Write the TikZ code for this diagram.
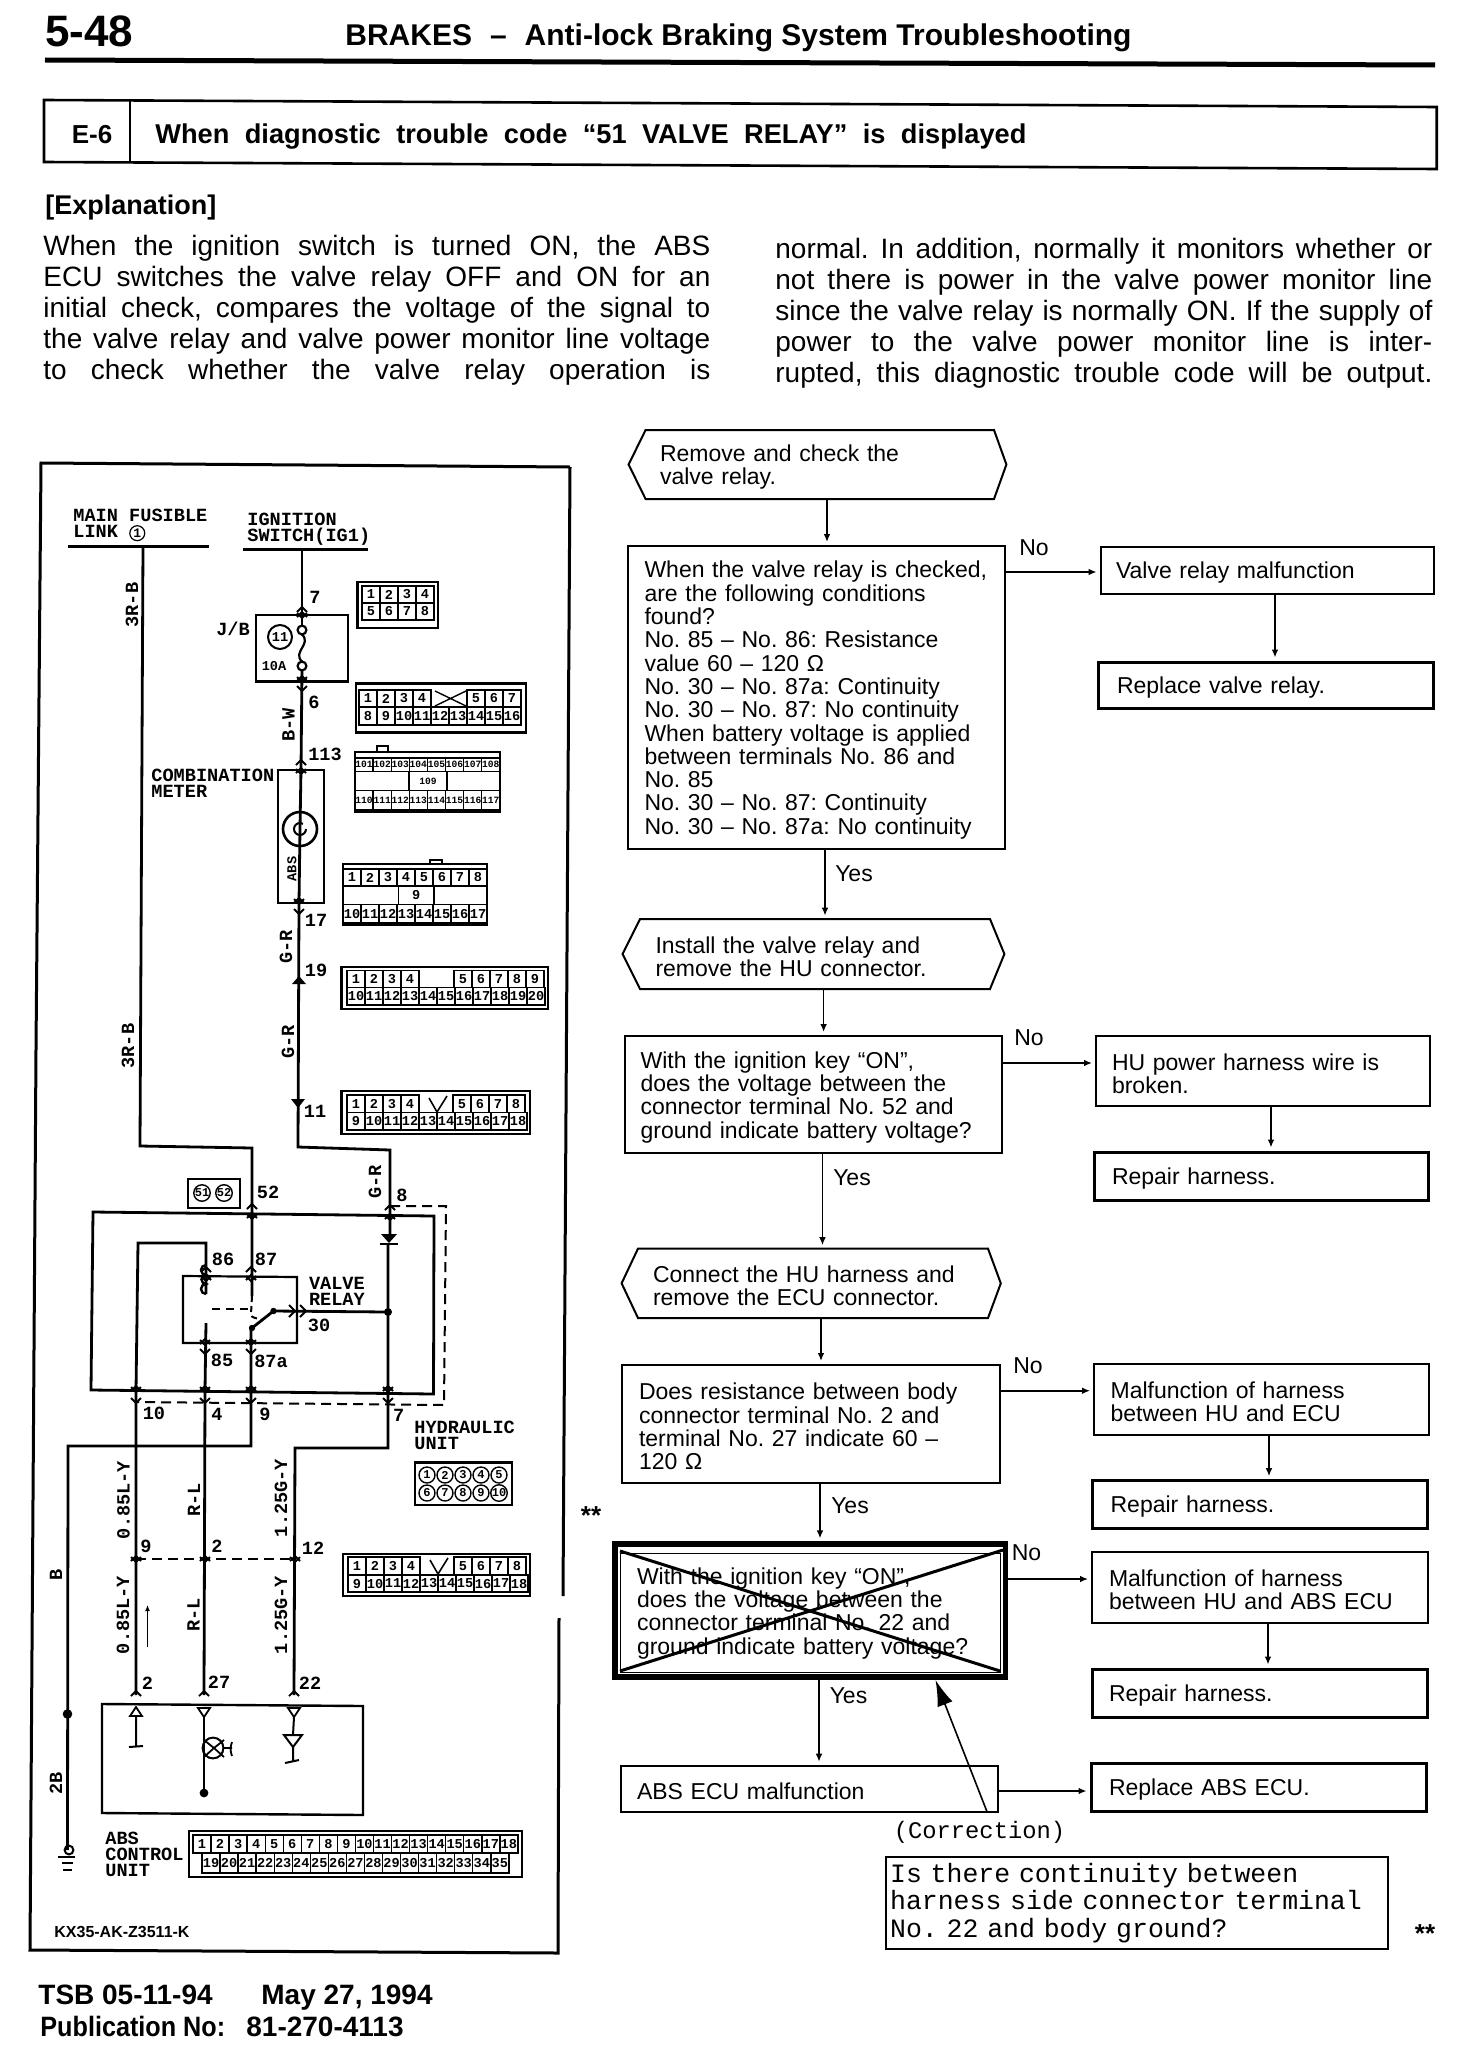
\documentclass[tikz,border=0pt]{standalone}
\usepackage{graphicx}
\usepackage{fontspec}
\setmainfont{Liberation Sans}
\setmonofont{Liberation Mono}
\usetikzlibrary{arrows.meta,calc}
\frenchspacing
\newcommand{\ftflow}{\fontsize{11.5}{11.65}\selectfont}
\newcommand{\ftbody}{\fontsize{14}{15.5}\selectfont}
\newcommand{\ftwire}{\ttfamily\bfseries\fontsize{9.3}{8}\selectfont}
\newcommand{\ftcell}{\ttfamily\bfseries\fontsize{6.8}{7}\selectfont}
\tikzset{
  fbox/.style={draw,line width=1pt,inner sep=0pt,align=left,font=\ftflow},
  fboxthick/.style={fbox,line width=1.5pt},
  hexb/.style={inner sep=0pt,align=left,font=\ftflow},
  flow/.style={line width=.8pt,-{Latex[length=4pt,width=3.4pt]},shorten >=1.5pt},
  flab/.style={inner sep=0pt,font=\ftflow},
  wire/.style={line width=1.4pt,line join=miter},
  dwire/.style={line width=1pt,dash pattern=on 5pt off 3pt},
  tip/.style={line width=.9pt},
  wl/.style={inner sep=0pt,font=\ftwire},
  wlL/.style={inner sep=0pt,font=\ftwire,anchor=west,align=left},
  wr/.style={inner sep=0pt,font=\ftwire,rotate=90},
  cell/.style={draw,line width=.7pt,inner sep=0pt,font=\ftcell},
  cell3/.style={cell,font=\ttfamily\bfseries\fontsize{4.8}{5}\selectfont},
  round cell/.style={circle,draw,line width=.7pt,inner sep=0pt,minimum size=8pt,font=\ttfamily\bfseries\fontsize{6}{6}\selectfont},
  shell/.style={line width=1.1pt},
  para/.style={inner sep=0pt,anchor=west,font=\ftbody,text height=10pt,text depth=3pt},
  head/.style={inner sep=0pt,anchor=west,font=\bfseries},
  foot/.style={head,font=\bfseries\fontsize{14}{14}\selectfont,text height=10pt,text depth=3pt},
}
\newcommand{\fb}[8][fbox]{\node[#1,minimum width={(#5-#3)*0.5pt},minimum height={(#6-#4)*0.5pt},text width={(#5-#3-2*(#7))*0.5pt}] (#2) at ({(#3+#5)/2},{(#4+#6)/2}) {\rule{0pt}{11pt}#8};}
\newcommand{\hexbox}[9]{\node[hexb,minimum width={(#4-#2)*0.5pt},minimum height={(#5-#3)*0.5pt},text width={(#4-#2-2*(#8))*0.5pt}] (#1) at ({(#2+#4)/2},{(#3+#5)/2}) {\rule{0pt}{11pt}#9};
  \draw[line width=1pt] (#1.west)--(#6,#3)--(#7,#3)--(#1.east)--(#7,#5)--(#6,#5)--cycle;}
\newcommand{\connrow}[6]{\foreach \lab [count=\ci] in {#6}{\pgfmathsetmacro{\cellx}{#2+(\ci-0.5)*#5}\node[cell,minimum width={#5*0.5pt},minimum height={(#4-#3)*0.5pt}] (#1-\ci) at (\cellx,{(#3+#4)/2}) {\lab};}}
\newcommand{\connrowS}[6]{\foreach \lab [count=\ci] in {#6}{\pgfmathsetmacro{\cellx}{#2+(\ci-0.5)*#5}\node[cell3,minimum width={#5*0.5pt},minimum height={(#4-#3)*0.5pt}] (#1-\ci) at (\cellx,{(#3+#4)/2}) {\lab};}}
\newcommand{\chevup}[2]{\draw[tip] (#1-5,#2+5)--(#1,#2)--(#1+5,#2+5);}
\newcommand{\chevdn}[2]{\draw[tip] (#1-5,#2-5)--(#1,#2)--(#1+5,#2-5);}
\newcommand{\chevx}[2]{\chevup{#1}{#2-3}\chevdn{#1}{#2+3}}
\newcommand{\jline}[2]{\makebox[#1][s]{#2}}
\begin{document}
\begin{tikzpicture}[x=0.5pt,y=-0.5pt]
\path[use as bounding box,fill=white] (0,0) rectangle (1472,2050);
% ---------- header
\node[head,font=\bfseries\fontsize{22}{22}\selectfont] (pageno) at (45,31) {5-48};
\node[head,font=\bfseries\fontsize{15}{15}\selectfont,text height=11pt,text depth=3pt] (hdr) at (345,38) {BRAKES\hspace{9pt}–\hspace{9pt}\fontsize{15}{15}\selectfont Anti-lock Braking System Troubleshooting};
\draw[line width=2.5pt] (45,60)--(1435,65);
\draw[line width=1.3pt] (44,100)--(1436.7,107)--(1436.7,169)--(44,162)--cycle;
\draw[line width=1pt] (129.6,101)--(129.6,162);
\node[inner sep=0pt,font=\bfseries\fontsize{13}{13}\selectfont] (code) at (92,135) {E-6};
\node[head,font=\bfseries\fontsize{13.6}{14}\selectfont] (title) at (155,137) {\jline{435.5pt}{When\hspace{3pt} diagnostic\hspace{3pt} trouble\hspace{3pt} code\hspace{3pt} “51\hspace{3pt} VALVE\hspace{3pt} RELAY”\hspace{3pt} is\hspace{3pt} displayed}};
\node[head,font=\bfseries\fontsize{13.5}{14}\selectfont] (expl) at (45,208) {[Explanation]};
% ---------- paragraphs
\node[para] (l1) at (43,248) {\jline{333.5pt}{When the ignition switch is turned ON, the ABS}};
\node[para] (l2) at (43,279) {\jline{333.5pt}{ECU switches the valve relay OFF and ON for an}};
\node[para] (l3) at (43,310) {\jline{333.5pt}{initial check, compares the voltage of the signal to}};
\node[para] (l4) at (43,341) {\jline{333.5pt}{the valve relay and valve power monitor line voltage}};
\node[para] (l5) at (43,372) {\jline{333.5pt}{to check whether the valve relay operation is}};
\node[para] (r1) at (775,251) {\jline{328.5pt}{normal. In addition, normally it monitors whether or}};
\node[para] (r2) at (775,282) {\jline{328.5pt}{not there is power in the valve power monitor line}};
\node[para] (r3) at (775,313) {\jline{328.5pt}{since the valve relay is normally ON. If the supply of}};
\node[para] (r4) at (775,344) {\jline{328.5pt}{power to the valve power monitor line is inter-}};
\node[para] (r5) at (775,375) {\jline{328.5pt}{rupted, this diagnostic trouble code will be output.}};
% ---------- flow chart boxes
\hexbox{h1}{629}{430}{1006}{499}{645.6}{994}{31}{Remove and check the\\valve relay.}
\fb{b1}{628}{546}{1005}{849}{16.5}{When the valve relay is checked,\\are the following conditions\\found?\\No. 85 – No. 86: Resistance\\value 60 – 120 Ω\\No. 30 – No. 87a: Continuity\\No. 30 – No. 87: No continuity\\When battery voltage is applied\\between terminals No. 86 and\\No. 85\\No. 30 – No. 87: Continuity\\No. 30 – No. 87a: No continuity}
\fb{b2}{1100.5}{547}{1434}{593.5}{15.5}{Valve relay malfunction}
\fb[fboxthick]{b3}{1098.5}{662}{1433}{708.6}{18.5}{Replace valve relay.}
\hexbox{h2}{623}{919}{1004}{989}{640}{990}{32.5}{Install the valve relay and\\remove the HU connector.}
\fb{b4}{625}{1036}{1001.5}{1153}{15.6}{With the ignition key “ON”,\\does the voltage between the\\connector terminal No. 52 and\\ground indicate battery voltage?}
\fb{b5}{1096}{1036.4}{1430}{1106}{16}{HU power harness wire is\\broken.}
\fb[fboxthick]{b6}{1094}{1152}{1428.7}{1200}{18}{Repair harness.}
\hexbox{h3}{622}{1248.6}{1000.4}{1318}{638}{988}{31}{Connect the HU harness and\\remove the ECU connector.}
\fb{b7}{622}{1365}{1000.4}{1483}{17}{Does resistance between body\\connector terminal No. 2 and\\terminal No. 27 indicate 60 –\\120 Ω}
\fb{b8}{1094}{1364}{1428.7}{1434.6}{16.6}{Malfunction of harness\\between HU and ECU}
\fb[fboxthick]{b9}{1092}{1480.7}{1427.5}{1528}{18.6}{Repair harness.}
\fb[fbox,line width=2.6pt]{b10}{615}{1544}{1005.5}{1677}{22}{With the ignition key “ON”,\\does the voltage between the\\connector terminal No. 22 and\\ground indicate battery voltage?}
\draw[line width=.5pt] (620,1553) rectangle (1000,1672);
\draw[line width=1.5pt] (620,1551)--(1000,1671);
\draw[line width=1.5pt] (1003,1550)--(620,1671);
\fb{b11}{1092}{1551.7}{1427.6}{1622.7}{17}{Malfunction of harness\\between HU and ABS ECU}
\fb[fboxthick]{b12}{1092}{1669}{1427.6}{1717}{17}{Repair harness.}
\fb{b13}{621}{1765.7}{998}{1811.7}{16}{ABS ECU malfunction}
\fb[fboxthick]{b14}{1091}{1763}{1426}{1811}{18}{Replace ABS ECU.}
\node[draw,line width=1.1pt,inner sep=0pt,minimum width={251pt},minimum height={46pt},text width={246.5pt},align=left,font=\ttfamily\fontsize{13.25}{13.7}\selectfont] (b15) at (1136.6,1903) {Is there continuity between\\harness side connector terminal\\No. 22 and body ground?};
\node[inner sep=0pt,font=\ttfamily\fontsize{11.9}{12}\selectfont] (corr) at (979.5,1832) {(Correction)};
\node[inner sep=0pt,font=\bfseries\fontsize{13}{13}\selectfont] (st1) at (591,1516) {**};
\node[inner sep=0pt,font=\bfseries\fontsize{13}{13}\selectfont] (st2) at (1425,1934) {**};
% flow connectors
\coordinate (xa) at (827,0); \coordinate (xb) at (825,0); \coordinate (xc) at (823.6,0); \coordinate (xd) at (822.5,0);
\coordinate (xe) at (821,0); \coordinate (xf) at (820,0); \coordinate (xg) at (819,0);
\coordinate (xh) at (1275,0); \coordinate (xi) at (1271,0); \coordinate (xj) at (1269,0); \coordinate (xk) at (1268,0);
\coordinate (ya) at (0,572); \coordinate (yb) at (0,1063); \coordinate (yc) at (0,1390.7); \coordinate (yd) at (0,1579); \coordinate (ye) at (0,1791);
\draw[flow] (xa |- h1.south)--(xa |- b1.north);
\draw[flow] (xb |- b1.south)--(xb |- h2.north);
\draw[flow] (xc |- h2.south)--(xc |- b4.north);
\draw[flow] (xd |- b4.south)--(xd |- h3.north);
\draw[flow] (xe |- h3.south)--(xe |- b7.north);
\draw[flow] (xf |- b7.south)--(xf |- b10.north);
\draw[flow] (xg |- b10.south)--(xg |- b13.north);
\draw[flow] (b1.east |- ya)--(b2.west |- ya);
\draw[flow] (b4.east |- yb)--(b5.west |- yb);
\draw[flow] (b7.east |- yc)--(b8.west |- yc);
\draw[flow] (b10.east |- yd)--(b11.west |- yd);
\draw[flow] (b13.east |- ye)--(b14.west |- ye);
\draw[flow] (xh |- b2.south)--(xh |- b3.north);
\draw[flow] (xi |- b5.south)--(xi |- b6.north);
\draw[flow] (xj |- b8.south)--(xj |- b9.north);
\draw[flow] (xk |- b11.south)--(xk |- b12.north);
\coordinate (corrtail) at (987,1811.7); \coordinate (corrtip) at (935.5,1680);
\draw[line width=.8pt,-{Latex[length=13pt,width=8pt]}] (corrtail)--(corrtip);
\node[flab] (no1) at (1034,548) {No};
\node[flab] (no2) at (1029,1038) {No};
\node[flab] (no3) at (1028,1366) {No};
\node[flab] (no4) at (1026.5,1553) {No};
\node[flab] (yes1) at (854,874) {Yes};
\node[flab] (yes2) at (852,1178) {Yes};
\node[flab] (yes3) at (850,1506) {Yes};
\node[flab] (yes4) at (848.5,1695.6) {Yes};
% ---------- wiring frame
\draw[line width=1.5pt] (570,467)--(41,463)--(36,1050)--(30,1950)--(558,1953)--(559,1618);
\draw[line width=1.5pt] (563,1596)--(570,467);
% sources
\node[wlL] (src1) at (73,525) {MAIN FUSIBLE\\LINK \raisebox{-1pt}{\tikz[baseline=-3pt]\node[circle,draw,line width=.6pt,inner sep=.6pt,font=\ttfamily\fontsize{6.5}{6.5}\selectfont]{1};}};
\node[wlL] (src2) at (247,529) {IGNITION\\SWITCH(IG1)};
\draw[line width=1.5pt] (68,546)--(209,546);
\draw[line width=1.5pt] (243,549.5)--(368,549.5);
% wires
\draw[wire] (143,546)--(140,1146)--(252,1148)--(252,1296);
\draw[wire] (302,549.5)--(302,626);
\draw[wire] (302,670)--(301,769)--(300,829);
\draw[wire] (300,829)--(299,903)--(298,1147)--(390,1150)--(390,1234);
\draw[wire] (388,1243)--(388,1448)--(295,1448)--(294,1695);
\draw[wire] (206,1294)--(206,1243)--(138,1243)--(136,1391)--(136,1695);
\draw[wire] (206,1323)--(205,1391)--(204,1695);
\draw[wire] (251,1328)--(251,1446)--(68,1446)--(67.5,1850);
\draw[wire] (388,1312)--(273.5,1311)--(252,1328);
\fill (388,1312) circle (2pt);
\fill (273.5,1311) circle (1.6pt);
\fill (252,1328) circle (1.6pt);
\draw[dwire] (390,1206)--(446,1206)--(444,1405)--(136,1402);
\draw[dwire] (136,1559)--(295,1559);
\draw[line width=1pt,dash pattern=on 3pt off 2pt] (252,1296)--(251,1314) to[out=-90,in=150] (262,1320);
\draw[line width=1pt,dash pattern=on 4pt off 3pt] (212,1309)--(250,1309);
\draw[line width=1.2pt] (206,1294) arc[start angle=90,end angle=270,radius=5] arc[start angle=90,end angle=270,radius=4.5] arc[start angle=90,end angle=270,radius=5];
% relay boxes
\draw[wire] (93,1212)--(434,1216)--(433.5,1394)--(91,1390)--cycle;
\draw[line width=1.1pt] (183,1276)--(297,1277)--(297,1343)--(183,1343)--cycle;
\path[fill=black] (381,1234)--(397,1234)--(389,1243)--cycle;
\draw[line width=1.2pt] (380,1244)--(398,1244);
% J/B and fuse
\draw[line width=1.1pt] (256,615) rectangle (348,681.5);
\draw[line width=1.1pt] (302,630) circle (2.2pt);
\draw[line width=1.1pt] (302,666) circle (2.2pt);
\draw[line width=1.1pt] (302,634.5) .. controls (312,644) and (292,652) .. (302,661.5);
\node[circle,draw,line width=1pt,inner sep=0pt,minimum size=12pt,font=\ftcell] (jb11) at (280,637) {11};
\node[inner sep=0pt,font=\ftcell] (jb10a) at (274,666) {10A};
\node[wl] (jblab) at (233,629) {J/B};
% meter
\draw[line width=1.1pt] (278,769.6) rectangle (323.6,902.7);
\draw[line width=1.3pt] (300,829) circle (8.5pt);
\draw[line width=1pt] (306,829) arc[start angle=0,end angle=300,radius=6];
\node[inner sep=0pt,rotate=90,font=\ftcell] (absm) at (292,869) {ABS};
\node[wlL] (cmlab) at (151,783) {COMBINATION\\METER};
% chevrons
\chevup{302}{607}\chevx{302}{615}\chevx{302}{679}\chevdn{302}{691}
\chevup{301}{760}\chevx{301}{771}\chevx{299}{901}\chevdn{299}{914}
\path[fill=black] (292,984)--(299,976)--(306,984)--cycle;
\path[fill=black] (291,1099)--(305,1099)--(298,1108)--cycle;
\chevup{252}{1204}\chevx{252}{1216}
\chevup{390}{1205}\chevx{390}{1217}
\chevup{206}{1267}\chevx{206}{1278}\chevup{251}{1267}\chevx{251}{1278}
\chevx{205}{1342}\chevdn{205}{1354}\chevx{251}{1342}\chevdn{251}{1354}
\foreach \px in {136,205,251,388}{\chevx{\px}{1389}\chevdn{\px}{1403}}
\foreach \px in {136,205,295}{\chevx{\px}{1559}}
\foreach \px in {136,204,294}{\chevup{\px}{1691}}
\draw[tip] (289,1305)--(295,1311)--(289,1317);
\draw[tip] (300,1305)--(306,1311)--(300,1317);
% wire colour labels
\node[wr] (c1) at (132,605) {3R-B};
\node[wr] (c2) at (128,1046) {3R-B};
\node[wr] (c3) at (288.6,725) {B-W};
\node[wr] (c4) at (286,947) {G-R};
\node[wr] (c5) at (288,1042) {G-R};
\node[wr] (c6) at (375,1182) {G-R};
\node[wr] (c7) at (123.6,1500) {0.85L-Y};
\node[wr] (c8) at (194,1500) {R-L};
\node[wr] (c9) at (281,1498) {1.25G-Y};
\node[wr] (c10) at (123,1615) {0.85L-Y};
\node[wr] (c11) at (193.5,1615) {R-L};
\node[wr] (c12) at (281,1615) {1.25G-Y};
\node[wr] (c13) at (56,1575) {B};
\node[wr] (c14) at (56,1783) {2B};
\draw[line width=.8pt,-{Latex[length=3pt,width=2.5pt]}] (147.5,1647)--(147.5,1605);
% pin labels
\node[wl] (p7) at (315,597) {7};
\node[wl] (p6) at (314,702) {6};
\node[wl] (p113) at (325,754) {113};
\node[wl] (p17) at (316,920) {17};
\node[wl] (p19) at (316,970) {19};
\node[wl] (p11) at (315,1111) {11};
\node[wl] (p52) at (268,1192) {52};
\node[wl] (p8) at (402,1195) {8};
\node[wl] (p86) at (223,1259) {86};
\node[wl] (p87) at (266,1259) {87};
\node[wl] (p85) at (222,1360) {85};
\node[wl] (p87a) at (271,1361) {87a};
\node[wl] (p30) at (319,1325) {30};
\node[wlL] (vr) at (308.6,1291) {VALVE\\RELAY};
\node[wl] (p10) at (154,1413) {10};
\node[wl] (p4) at (217,1414) {4};
\node[wl] (p9) at (265,1414) {9};
\node[wl] (p7b) at (398.6,1415) {7};
\node[wlL] (hu) at (414,1435) {HYDRAULIC\\UNIT};
\node[wl] (p9b) at (146,1546) {9};
\node[wl] (p2) at (217,1546) {2};
\node[wl] (p12) at (313,1548) {12};
\node[wl] (p2b) at (147.5,1683) {2};
\node[wl] (p27) at (219,1682) {27};
\node[wl] (p22) at (310,1683) {22};
% ABS unit
\draw[line width=1.2pt] (102,1704)--(363,1706)--(363,1815)--(102,1813)--cycle;
\draw[line width=.9pt] (136,1707)--(142,1716)--(130,1716)--cycle;
\draw[line width=1pt] (136,1716)--(136,1747) (129,1747)--(143,1746);
\draw[line width=.9pt] (198,1708)--(210,1708)--(204,1717)--cycle;
\draw[line width=1pt] (204,1717)--(204,1793);
\fill (204,1793) circle (2.2pt);
\draw[line width=1pt] (213,1748) circle (5.2pt);
\draw[line width=.9pt] (204,1740)--(214,1748)--(204,1757) (214,1748)--(224,1740) (214,1748)--(224,1757);
\draw[line width=.9pt] (224,1748)--(232,1748) (232,1742) to[bend right=20] (232,1756);
\draw[line width=.9pt] (288,1708)--(300,1708)--(294,1717)--cycle;
\draw[line width=1pt] (294,1717)--(293,1735);
\draw[line width=1pt] (284,1735)--(302,1735)--(293,1747)--cycle;
\draw[line width=1pt] (293,1747)--(293,1762) (285,1763)--(299,1760);
% ground
\fill (67.5,1714) circle (2.4pt);
\draw[line width=1pt] (69,1850) circle (2.2pt);
\draw[line width=1.1pt] (58,1857)--(75,1857) (62,1863)--(73,1863) (63,1870)--(72,1870);
\node[wlL] (acu) at (105,1854) {ABS\\CONTROL\\UNIT};
\node[head,font=\bfseries\fontsize{8}{8}\selectfont] (kx) at (54,1932) {KX35-AK-Z3511-K};
% footer
\node[foot] (f1) at (38,1997) {TSB 05-11-94};
\node[foot] (f2) at (261,1997) {May 27, 1994};
\node[foot] (f3) at (40,2029) {\scalebox{.9}[1]{Publication No:}};
\node[foot] (f4) at (246,2029) {81-270-4113};
% connector diagrams
\draw[shell] (357.5,582) rectangle (438,628);
\connrow{ca}{362}{586}{603}{18}{1,2,3,4}
\connrow{cb}{362}{603}{620}{18}{5,6,7,8}
\draw[shell] (356,683.5) rectangle (526,732.4);
\connrow{cc}{359}{690}{707}{18}{1,2,3,4}
\connrow{cd}{467}{690}{707}{18}{5,6,7}
\connrow{ce}{359}{707}{725}{18}{8,9,10,11,12,13,14,15,16}
\draw[line width=.7pt] (435,691)--(466,706) (435,706)--(466,691);
\draw[shell] (355,752) rectangle (500,811.6);
\draw[shell] (377,752)--(377,746)--(388,746)--(388,752);
\connrowS{cf}{355}{758}{771.5}{18.1}{101,102,103,104,105,106,107,108}
\connrowS{cg}{409}{771.5}{790.6}{38}{109}
\connrowS{ch}{355}{790.6}{810}{18.1}{110,111,112,113,114,115,116,117}
\draw[shell] (343,864) rectangle (487,924.5);
\draw[shell] (430,864)--(430,860)--(442,860)--(442,864);
\connrow{ci}{343}{869}{886}{18}{1,2,3,4,5,6,7,8}
\connrow{cj}{398.6}{886}{904.6}{35.4}{9}
\connrow{ck}{343}{904.6}{923}{18}{10,11,12,13,14,15,16,17}
\draw[shell] (341.5,966.6) rectangle (548,1008.7);
\connrow{cl}{347}{970.5}{987.7}{18}{1,2,3,4}
\connrow{cm}{454}{970.5}{987.7}{18}{5,6,7,8,9}
\connrow{cn}{347}{987.7}{1005}{18}{10,11,12,13,14,15,16,17,18,19,20}
\draw[shell] (341.5,1091) rectangle (530,1134);
\connrow{co}{347}{1095}{1112.5}{18}{1,2,3,4}
\connrow{cp}{453}{1095}{1112.5}{18}{5,6,7,8}
\connrow{cq}{347}{1112.5}{1130}{18}{9,10,11,12,13,14,15,16,17,18}
\draw[line width=.8pt] (429,1098)--(437,1112)--(447,1096);
\draw[shell] (188,1179) rectangle (240,1208);
\node[round cell] (c51) at (202,1193) {51};
\node[round cell] (c52) at (224,1193) {52};
\draw[shell] (415,1462.5) rectangle (512,1505);
\foreach \lab [count=\ci] in {1,2,3,4,5}{\pgfmathsetmacro{\cellx}{427+(\ci-1)*18}\node[round cell] (hu\ci) at (\cellx,1475) {\lab};}
\foreach \lab [count=\ci] in {6,7,8,9,10}{\pgfmathsetmacro{\cellx}{427+(\ci-1)*18}\node[round cell] (hv\ci) at (\cellx,1493) {\lab};}
\draw[shell] (343,1553.6) rectangle (530,1596);
\connrow{cr}{348}{1557}{1575}{18}{1,2,3,4}
\connrow{cs}{454}{1557}{1575}{18}{5,6,7,8}
\connrow{ct}{348}{1575}{1592}{18}{9,10,11,12,13,14,15,16,17,18}
\draw[line width=.8pt] (430,1560)--(438,1574)--(448,1558);
\draw[shell] (188.6,1831) rectangle (522,1877);
\connrow{cu}{193}{1835}{1853}{18.05}{1,2,3,4,5,6,7,8,9,10,11,12,13,14,15,16,17,18}
\connrow{cv}{202}{1853}{1873}{18.05}{19,20,21,22,23,24,25,26,27,28,29,30,31,32,33,34,35}
\end{tikzpicture}
\end{document}
